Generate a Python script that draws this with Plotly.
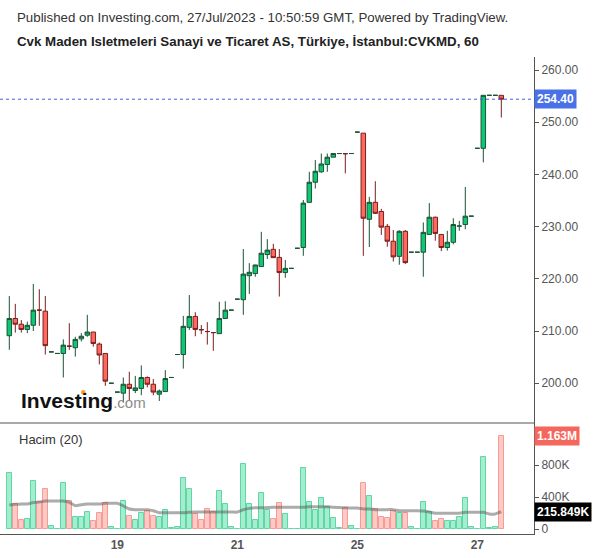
import plotly.graph_objects as go
from plotly.subplots import make_subplots

# ---------------- data ----------------
bar_index = list(range(83))

opens = [209.1, 212.4, 211.3, 210.3, 211.1, 214.0, 213.8, 206.0, 205.7, 205.7,
         207.1, 206.8, 208.5, 209.2, 209.8, 207.5, 205.7, 200.0, 198.3, 198.1,
         199.8, 198.6, 199.0, 201.1, 199.8, 197.9, 198.4, 201.1, 205.5, 205.5,
         210.7, 212.8, 210.25, 209.9, 209.7, 209.5, 212.4, 214.0, 216.1, 216.0,
         220.6, 221.0, 222.35, 224.65, 225.65, 224.1, 221.2, 222.0, 225.85, 226.0,
         234.65, 238.5, 240.5, 241.9, 243.3, 244.0, 243.97, 244.0, 248.1, 247.9,
         231.4, 234.65, 232.9, 230.05, 227.2, 224.3, 229.1, 225.1, 225.1, 225.1,
         228.5, 231.8, 228.5, 226.0, 227.0, 230.1, 230.4, 232.0, 245.0, 245.0,
         255.15, 255.15, 255.15]
highs = [216.7, 215.2, 212.1, 211.8, 219.0, 218.0, 216.7, 206.0, 205.7, 208.4,
         211.5, 208.9, 209.6, 213.1, 209.8, 207.8, 205.7, 200.0, 198.3, 201.1,
         202.2, 201.4, 203.4, 201.3, 200.8, 198.8, 202.5, 201.1, 205.5, 212.9,
         216.9, 213.6, 211.15, 211.7, 209.7, 215.6, 215.7, 214.0, 216.1, 225.7,
         223.0, 222.7, 229.0, 227.6, 226.7, 225.7, 223.6, 222.0, 225.85, 235.1,
         240.5, 242.75, 244.0, 244.0, 244.0, 244.0, 244.0, 244.0, 248.1, 247.9,
         235.7, 238.7, 233.4, 230.5, 229.35, 229.3, 229.35, 225.1, 225.1, 230.8,
         234.5, 231.9, 228.5, 229.2, 231.6, 231.1, 237.6, 232.0, 245.0, 255.15,
         255.15, 255.15, 255.15]
lows = [206.4, 209.7, 209.7, 209.6, 210.0, 211.0, 205.5, 206.0, 205.7, 201.1,
        206.4, 205.1, 208.0, 208.9, 207.0, 203.6, 199.5, 200.0, 198.3, 196.3,
        196.6, 198.1, 197.7, 199.2, 197.7, 196.6, 198.4, 201.1, 205.5, 202.8,
        210.2, 209.0, 209.4, 207.4, 206.2, 209.5, 212.4, 214.0, 216.1, 213.1,
        217.1, 220.4, 222.35, 223.8, 224.05, 216.6, 220.2, 222.0, 225.85, 224.4,
        234.65, 237.3, 240.3, 240.5, 243.3, 244.0, 240.2, 244.0, 248.1, 224.4,
        226.1, 232.4, 228.4, 226.15, 223.3, 222.7, 222.85, 225.1, 225.1, 220.4,
        228.5, 227.3, 225.3, 225.4, 226.6, 229.2, 229.5, 232.0, 245.0, 242.3,
        255.15, 255.15, 250.9]
closes = [212.4, 211.3, 210.3, 211.1, 214.0, 214.0, 207.2, 206.0, 205.7, 207.3,
          207.1, 208.4, 209.0, 209.8, 207.6, 205.4, 200.4, 200.0, 198.3, 199.8,
          199.0, 199.1, 201.1, 199.8, 198.3, 198.5, 200.9, 201.1, 205.5, 210.9,
          212.8, 210.3, 210.25, 209.9, 209.7, 212.4, 214.0, 214.0, 216.1, 220.9,
          221.25, 222.65, 224.9, 225.5, 224.05, 221.2, 222.0, 222.0, 225.85, 234.5,
          238.5, 240.6, 242.0, 243.3, 244.0, 244.0, 243.97, 244.0, 248.1, 231.6,
          234.65, 232.55, 229.9, 227.2, 224.2, 229.1, 223.1, 225.1, 225.1, 228.9,
          231.8, 228.7, 226.0, 227.0, 230.4, 230.1, 232.0, 232.0, 245.0, 255.15,
          255.15, 255.15, 254.40]
# candle colour as drawn: 1 = up (green), 0 = down (red)
candle_up = [1, 0, 0, 1, 1, 0, 0, 1, 1, 1,
             0, 1, 1, 1, 0, 0, 0, 1, 1, 1,
             0, 1, 1, 0, 0, 1, 1, 1, 1, 1,
             1, 0, 0, 0, 0, 1, 1, 1, 1, 1,
             1, 1, 1, 1, 0, 0, 1, 1, 1, 1,
             1, 1, 1, 1, 1, 1, 0, 1, 1, 0,
             1, 0, 0, 0, 0, 1, 0, 1, 1, 1,
             1, 0, 0, 1, 1, 1, 1, 1, 1, 1,
             1, 1, 0]
volumes_k = [696, 308, 112, 125, 600, 341, 500, 37, 4, 575,
             350, 150, 150, 212, 100, 200, 325, 21, 4, 350,
             163, 112, 200, 225, 163, 150, 237, 12, 25, 633,
             500, 188, 112, 250, 212, 475, 313, 25, 3, 813,
             313, 112, 450, 237, 125, 325, 188, 4, 4, 758,
             333, 237, 384, 271, 133, 8, 259, 33, 3, 571,
             410, 245, 145, 133, 225, 196, 196, 21, 3, 333,
             212, 96, 121, 96, 96, 145, 384, 21, 3, 896,
             8, 21, 1163]
volume_ma_k = [300, 308, 313, 313, 330, 337, 350, 350, 350, 350,
               333, 292, 304, 313, 313, 313, 321, 321, 321, 288,
               250, 241, 241, 241, 229, 204, 202, 202, 202, 202,
               208, 212, 212, 212, 212, 212, 212, 212, 212, 241,
               258, 266, 266, 268, 271, 271, 271, 271, 271, 271,
               279, 279, 279, 279, 271, 268, 265, 262, 262, 250,
               250, 242, 242, 242, 242, 229, 229, 229, 229, 225,
               212, 196, 196, 196, 196, 196, 208, 208, 208, 208,
               188, 188, 216]
day_tick_bars = [18, 38, 58, 78]
day_tick_labels = ["19", "21", "25", "27"]
price_ticks = [200, 210, 220, 230, 240, 250, 260]
volume_ticks = [0, 400000, 800000]
volume_tick_labels = ["0", "400K", "800K"]
last_price = 254.40
last_volume_label = "1.163M"
volume_ma_label = "215.849K"
volume_ma_last = 215849

# ---------------- styling ----------------
FONT = "Liberation Sans, Arial, sans-serif"
UP_FILL, UP_LINE = "#0cc774", "#1d5236"
DN_FILL, DN_LINE = "#ff695b", "#7a1f1f"
VUP_FILL, VUP_LINE = "#a6ecd0", "#5cd8a2"
VDN_FILL, VDN_LINE = "#ffc9c5", "#f59c94"
AXIS = "#555555"

W, H = 600, 558
L, R, T, B = 0, 66, 57, 24
plot_h = H - T - B
vol_h = 111
price_h = plot_h - vol_h

fig = make_subplots(rows=2, cols=1, shared_xaxes=True, vertical_spacing=0,
                    row_heights=[price_h / plot_h, vol_h / plot_h])

def pick(seq, flag):
    return [v for v, u in zip(seq, candle_up) if u == flag]

for flag, fill, line in [(1, UP_FILL, UP_LINE), (0, DN_FILL, DN_LINE)]:
    fig.add_trace(go.Candlestick(
        x=pick(bar_index, flag), open=pick(opens, flag), high=pick(highs, flag),
        low=pick(lows, flag), close=pick(closes, flag),
        increasing=dict(fillcolor=fill, line=dict(color=line, width=1)),
        decreasing=dict(fillcolor=fill, line=dict(color=line, width=1)),
        whiskerwidth=0, showlegend=False, hoverinfo="skip"), row=1, col=1)

volumes = [v * 1000 for v in volumes_k]
fig.add_trace(go.Bar(
    x=bar_index, y=volumes, width=0.88,
    marker=dict(color=[VUP_FILL if u else VDN_FILL for u in candle_up],
                line=dict(color=[VUP_LINE if u else VDN_LINE for u in candle_up], width=1)),
    showlegend=False, hoverinfo="skip"), row=2, col=1)

fig.add_trace(go.Scatter(
    x=bar_index, y=[v * 1000 for v in volume_ma_k], mode="lines",
    line=dict(color="rgba(90,90,90,0.5)", width=3, shape="spline", smoothing=0.6),
    showlegend=False, hoverinfo="skip"), row=2, col=1)

x_range = [-1.55, 87.45]
fig.update_xaxes(range=x_range, showgrid=False, zeroline=False, rangeslider_visible=False,
                 fixedrange=True)
fig.update_xaxes(showticklabels=False, showline=False, ticks="", row=1, col=1)
fig.update_xaxes(tickmode="array", tickvals=day_tick_bars, ticktext=day_tick_labels,
                 tickfont=dict(family=FONT, size=12, color=AXIS, weight="bold"),
                 showline=True, linecolor=AXIS, linewidth=1, ticks="", row=2, col=1)

fig.update_yaxes(side="right", range=[192.38, 262.49], tickmode="array", tickvals=price_ticks,
                 tickformat=".2f", showgrid=False, zeroline=False, showline=True,
                 linecolor=AXIS, linewidth=1, ticks="outside", ticklen=4, tickcolor=AXIS,
                 tickfont=dict(family=FONT, size=12, color=AXIS), row=1, col=1)
fig.update_yaxes(side="right", range=[-62500, 1325000], tickmode="array", tickvals=volume_ticks,
                 ticktext=volume_tick_labels, showgrid=False, zeroline=False, showline=True,
                 linecolor=AXIS, linewidth=1, ticks="outside", ticklen=4, tickcolor=AXIS,
                 tickfont=dict(family=FONT, size=12, color=AXIS), row=2, col=1)

sep_y = vol_h / plot_h
shapes = [
    dict(type="line", xref="paper", yref="paper", x0=0, x1=1, y0=sep_y, y1=sep_y,
         line=dict(color=AXIS, width=1)),
    dict(type="line", xref="paper", yref="y", x0=0, x1=1, y0=last_price, y1=last_price,
         line=dict(color="#3d63dd", width=1, dash="dot")),
    dict(type="circle", xref="paper", yref="paper",
         x0=81 / 534, x1=85.5 / 534, y0=(534 - 394.5) / plot_h, y1=(534 - 390) / plot_h,
         fillcolor="#f7a21b", line=dict(width=0)),
]

annotations = [
    dict(text="Published on Investing.com, 27/Jul/2023 - 10:50:59 GMT, Powered by TradingView.",
         xref="paper", yref="paper", x=15 / 534, y=(H - B - 17) / plot_h, xanchor="left",
         yanchor="middle", showarrow=False, font=dict(family=FONT, size=13.3, color="#333333")),
    dict(text="<b>Cvk Maden Isletmeleri Sanayi ve Ticaret AS, Türkiye, İstanbul:CVKMD, 60</b>",
         xref="paper", yref="paper", x=15 / 534, y=(H - B - 41) / plot_h, xanchor="left",
         yanchor="middle", showarrow=False, font=dict(family=FONT, size=13.3, color="#222222")),
    dict(text="Hacim (20)", xref="paper", yref="paper", x=17 / 534, y=(534 - 439) / plot_h,
         xanchor="left", yanchor="middle", showarrow=False,
         font=dict(family=FONT, size=13, color="#333333")),
    dict(text="<b>Investing</b><span style='font-size:15px;color:#8c8c8c'>.com</span>",
         xref="paper", yref="paper", x=19 / 534, y=(534 - 400) / plot_h, xanchor="left",
         yanchor="middle", showarrow=False, font=dict(family=FONT, size=21, color="#111111")),
    dict(text=f"<b>{last_price:.2f}</b>", xref="paper", yref="y", x=1, y=last_price,
         xanchor="left", yanchor="middle", showarrow=False, bgcolor="#4a72e8", borderpad=2,
         font=dict(family=FONT, size=12, color="white")),
    dict(text=f"<b>{last_volume_label}</b>", xref="paper", yref="y2", x=1, y=volumes[-1],
         xanchor="left", yanchor="middle", showarrow=False, bgcolor="#f5675d", borderpad=2,
         font=dict(family=FONT, size=12, color="white")),
    dict(text=f"<b>{volume_ma_label}</b>", xref="paper", yref="y2", x=1, y=volume_ma_last,
         xanchor="left", yanchor="middle", showarrow=False, bgcolor="#000000", borderpad=2,
         font=dict(family=FONT, size=12, color="white")),
]

fig.update_layout(
    width=W, height=H, margin=dict(l=L, r=R, t=T, b=B),
    paper_bgcolor="white", plot_bgcolor="white",
    boxgap=0.25, boxgroupgap=0, bargap=0,
    shapes=shapes, annotations=annotations,
    font=dict(family=FONT, color="#333333"), hovermode=False,
)

fig.write_html("out.html", config={"displayModeBar": False},
               post_script="document.body.style.margin='0px';document.body.style.overflow='hidden';")
